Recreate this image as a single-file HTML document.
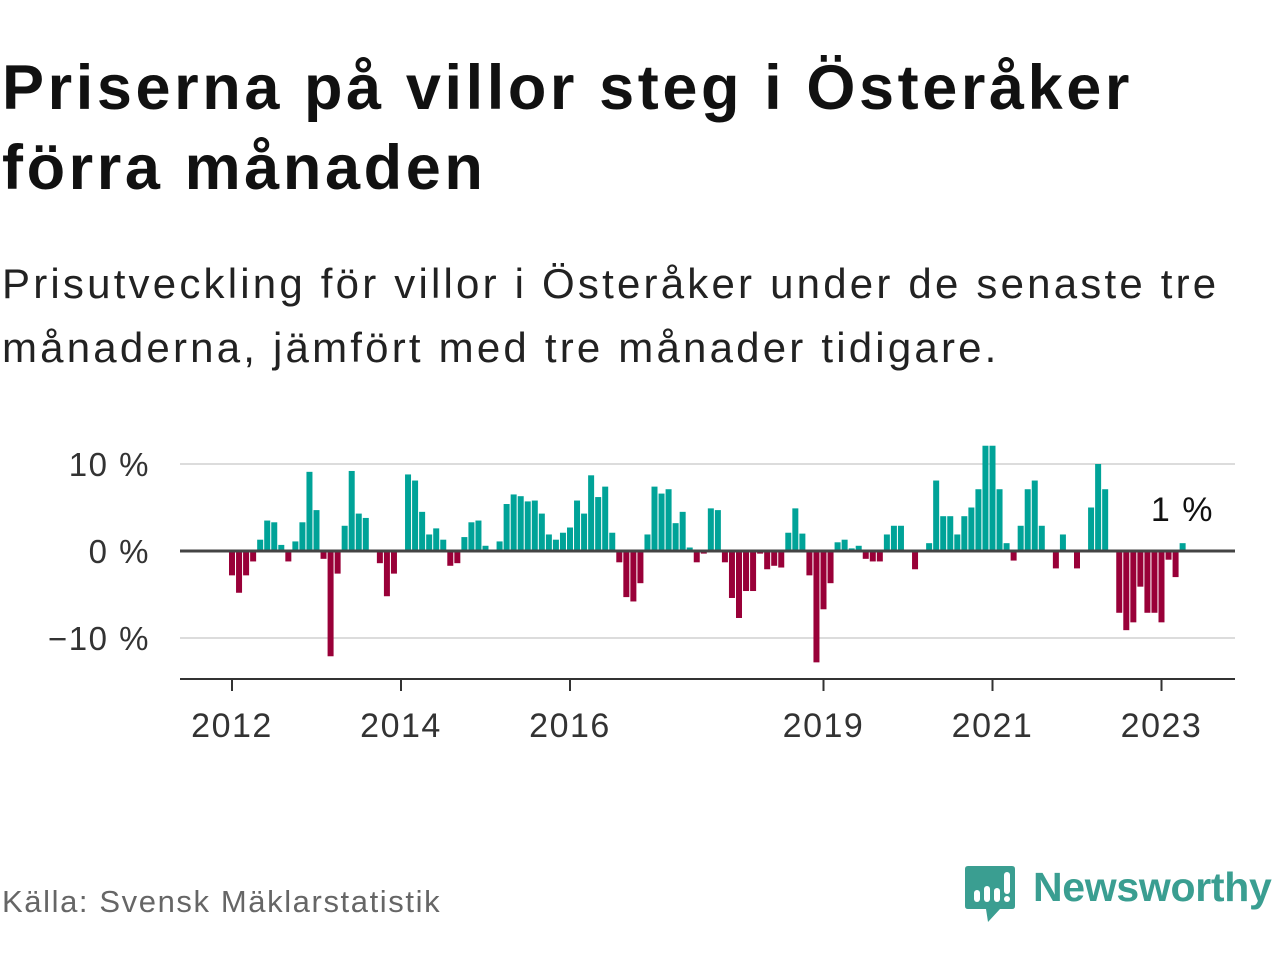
<!DOCTYPE html>
<html><head><meta charset="utf-8">
<style>
body{margin:0;width:1280px;height:960px;background:#fff;overflow:hidden;font-family:"Liberation Sans","DejaVu Sans",sans-serif;}
.t{position:absolute;left:2px;margin:0;color:#111;white-space:nowrap;}
#title{top:48px;font-size:63px;font-weight:bold;line-height:80px;letter-spacing:3.6px;}
#sub{top:252px;font-size:42px;line-height:64px;color:#222;letter-spacing:3.2px;}
#src{position:absolute;left:2px;top:884px;font-size:31px;color:#666;letter-spacing:1.6px;}
#logo{position:absolute;left:964px;top:864px;}
#logotext{position:absolute;left:1033px;top:864px;font-size:41px;color:#3a9e91;font-weight:bold;letter-spacing:-0.3px;}
</style></head><body>
<h1 class="t" id="title">Priserna på villor steg i Österåker<br>förra månaden</h1>
<p class="t" id="sub">Prisutveckling för villor i Österåker under de senaste tre<br>månaderna, jämfört med tre månader tidigare.</p>
<svg id="chart" width="1280" height="960" style="position:absolute;left:0;top:0" xmlns="http://www.w3.org/2000/svg"></svg>
<div id="src">Källa: Svensk Mäklarstatistik</div>
<svg id="logo" width="52" height="62" viewBox="0 0 52 62">
<path d="M4 2 H48 Q51 2 51 5 V42 Q51 45 48 45 H36 L24 58 L22 45 H4 Q1 45 1 42 V5 Q1 2 4 2Z" fill="#3a9e91"/>
<rect x="10" y="26" width="6" height="12" rx="3" fill="#fff"/>
<rect x="20" y="22" width="6" height="16" rx="3" fill="#fff"/>
<rect x="30" y="24" width="6" height="14" rx="3" fill="#fff"/>
<rect x="40" y="8" width="6" height="22" rx="3" fill="#fff"/>
<circle cx="43" cy="35" r="3" fill="#fff"/>
</svg>
<div id="logotext">Newsworthy</div>
<script>
const values = [-2.8,-4.8,-2.8,-1.2,1.3,3.5,3.3,0.7,-1.2,1.1,3.3,9.1,4.7,-0.9,-12.1,-2.6,2.9,9.2,4.3,3.8,
0,-1.4,-5.2,-2.6,0,8.8,8.1,4.5,1.9,2.6,1.3,-1.7,-1.4,1.6,3.3,3.5,0.6,0,1.1,5.4,
6.5,6.3,5.7,5.8,4.3,1.9,1.3,2.1,2.7,5.8,4.3,8.7,6.2,7.4,2.1,-1.3,-5.3,-5.8,-3.7,1.9,
7.4,6.6,7.1,3.2,4.5,0.4,-1.3,-0.3,4.9,4.7,-1.3,-5.4,-7.7,-4.6,-4.6,-0.3,-2.1,-1.7,-1.9,2.1,
4.9,2.0,-2.8,-12.8,-6.7,-3.7,1.0,1.3,0.3,0.6,-0.9,-1.2,-1.2,1.9,2.9,2.9,0,-2.1,0,0.9,
8.1,4.0,4.0,1.9,4.0,5.0,7.1,12.1,12.1,7.1,0.9,-1.1,2.9,7.1,8.1,2.9,0,-2.0,1.9,0,
-2.0,0,5.0,10.0,7.1,0,-7.1,-9.1,-8.2,-4.1,-7.1,-7.1,-8.2,-1.0,-3.0,0.9];
const yTicks = [10,0,-10];
const yTickLabels = ["10 %","0 %","−10 %"];
const xTickYears = [2012,2014,2016,2019,2021,2023];
const startYear = 2012;
const lastLabel = "1 %";

const NS="http://www.w3.org/2000/svg";
const svg=document.getElementById('chart');
const x0=232, mw=84.5/12, y0=551, k=8.7, left=180, right=1235;
const xs=i=>x0+i*mw;
const ys=v=>y0-v*k;
function mk(t,a){const e=document.createElementNS(NS,t);for(const n in a)e.setAttribute(n,a[n]);svg.appendChild(e);return e;}
yTicks.forEach((t,j)=>{
  if(t!==0){const g=mk('line',{x1:left,x2:right,y1:ys(t),y2:ys(t),stroke:'#dcdcdc','stroke-width':2});
  
  }
  const l=mk('text',{x:150,y:ys(t)+12,'text-anchor':'end','font-size':33,'letter-spacing':1.5,fill:'#333','font-family':'Liberation Sans, sans-serif'});
  l.textContent=yTickLabels[j];
  
  
});
values.forEach((v,i)=>{
  if(v===0)return;
  const y=Math.min(ys(v),y0), h=Math.abs(ys(v)-y0);
  const r=mk('rect',{x:xs(i)-3,y:y,width:6,height:h,fill:v>0?'#00a398':'#990038'});
  
  
});
const z=mk('line',{x1:left,x2:right,y1:y0,y2:y0,stroke:'#444','stroke-width':3});


const ax=mk('line',{x1:left,x2:right,y1:679,y2:679,stroke:'#333','stroke-width':2});


xTickYears.forEach(yr=>{
  const x=xs((yr-startYear)*12);
  const tk=mk('line',{x1:x,x2:x,y1:679,y2:691,stroke:'#333','stroke-width':2});
  
  
  const l=mk('text',{x:x,y:737,'text-anchor':'middle','font-size':34,'letter-spacing':1.5,fill:'#333','font-family':'Liberation Sans, sans-serif'});
  l.textContent=yr;
  
  
});
const ll=mk('text',{x:1214,y:521,'text-anchor':'end','font-size':34,'letter-spacing':1.5,fill:'#111','font-family':'Liberation Sans, sans-serif'});
ll.textContent=lastLabel;


</script>
</body></html>
